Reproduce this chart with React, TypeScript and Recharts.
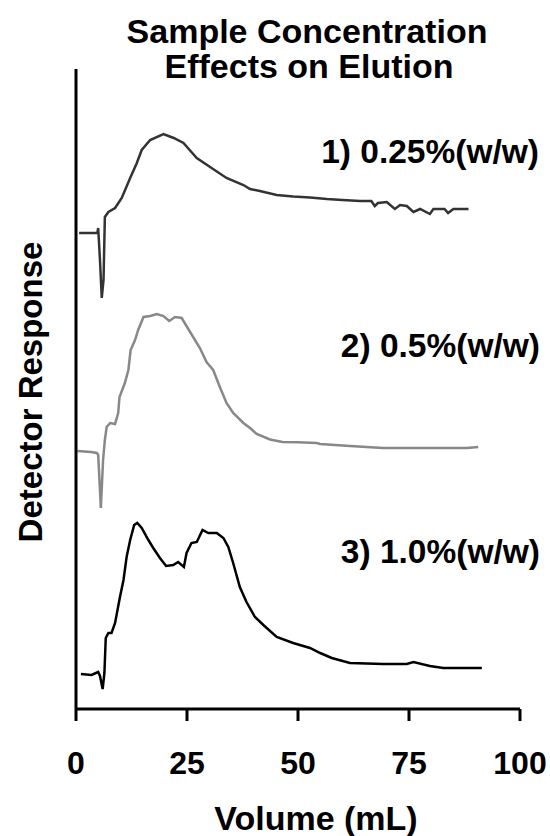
import React from "react";
import { LineChart, Line, XAxis, YAxis } from "recharts";

// elution volume (mL) and detector response (arbitrary units, curves stacked with offsets)
const vol1 = [0.7, 4.8, 5.0, 5.4, 5.8, 6.2, 6.5, 7.3, 8.8, 10.3, 12.2, 13.7, 14.8, 16.7, 19.7, 22.0, 24.2, 27.2, 30.2, 33.9, 37.7, 39.2, 41.4, 45.2, 48.9, 52.7, 56.5, 60, 64, 66.5, 67.3, 68, 70, 71.8, 73, 74.5, 76, 77.5, 79.7, 80.5, 83, 83.8, 85, 88.4];
const resp1 = [476, 476, 481, 449, 411, 429, 492, 497, 501, 511, 531, 546, 559, 569, 575, 571, 566, 551, 542, 531, 524, 520, 518, 514, 512.5, 511.5, 510, 509, 508, 508, 503, 506, 507, 500, 504, 503, 497, 500, 495, 500, 500, 496, 500, 500];

const vol2 = [0.3, 3.4, 4.7, 5.0, 5.6, 6.1, 6.5, 6.9, 7.7, 8.8, 9.5, 9.8, 11.0, 11.8, 12.3, 13.3, 14.0, 15.2, 16.7, 18.2, 19.7, 21.0, 22.3, 23.8, 25.7, 27.9, 29.4, 30.9, 32.4, 33.9, 35.4, 37.7, 39.2, 40.7, 43.7, 46.5, 50, 54.2, 55, 61.7, 69.2, 76.7, 84.2, 88, 90.6];
const resp2 = [258, 257, 256, 254, 201, 249, 269, 282, 286, 285, 296, 312, 326, 339, 359, 369, 379, 392, 393, 395, 393, 388, 392, 391, 377, 361, 347, 339, 322, 306, 296, 286, 281, 275, 269.5, 267, 266.7, 266, 265, 263, 261, 261, 261, 261, 262];

const vol3 = [1.1, 3.5, 5.0, 5.4, 6.0, 6.4, 6.7, 7.3, 8.0, 8.8, 9.9, 10.7, 11.4, 12.2, 13.1, 13.8, 14.8, 16.3, 17.4, 18.9, 20.3, 21.9, 23.0, 24.3, 24.9, 26.0, 27.2, 28.5, 29.8, 31.7, 33.2, 34.3, 35.4, 36.9, 38.4, 40.3, 42.2, 45.2, 48.9, 52.7, 55, 57.6, 61.7, 69.2, 74.5, 76, 79.7, 82.7, 86, 91.4];
const resp3 = [35, 34, 37, 33, 20, 36, 71, 76, 76, 86, 112, 129, 152, 169, 184, 186, 181, 169, 161, 151, 143, 144, 147, 142, 156, 166, 167, 179, 176, 176, 171, 162, 146, 122, 107, 92, 84, 72, 66, 61, 56, 51, 46, 45, 45, 47, 43, 41, 41, 41];

const xTicks = [0, 25, 50, 75, 100];
const seriesNames = ["1) 0.25%(w/w)", "2) 0.5%(w/w)", "3) 1.0%(w/w)"];

const toRows = (vols: number[], resps: number[]) =>
  vols.map((v, i) => ({ v, r: resps[i] }));

const FONT = '"Liberation Sans", Arial, Helvetica, sans-serif';

export default function App() {
  const data1 = toRows(vol1, resp1);
  const data2 = toRows(vol2, resp2);
  const data3 = toRows(vol3, resp3);

  return (
    <div style={{ position: "absolute", left: 0, top: 0, width: 550, height: 836, background: "#fff" }}>
      <LineChart
        width={550}
        height={836}
        margin={{ top: 69, right: 30, bottom: 0, left: 0 }}
      >
        <XAxis
          type="number"
          dataKey="v"
          domain={[0, 100]}
          ticks={xTicks}
          height={127}
          tickSize={12}
          tickMargin={30}
          axisLine={{ stroke: "#000", strokeWidth: 3 }}
          tickLine={{ stroke: "#000", strokeWidth: 3 }}
          tick={{ fill: "#000", fontSize: 32, fontWeight: "bold", fontFamily: FONT }}
          allowDuplicatedCategory={false}
        />
        <YAxis
          type="number"
          dataKey="r"
          domain={[0, 640]}
          width={76}
          tick={false}
          tickLine={false}
          axisLine={{ stroke: "#000", strokeWidth: 3 }}
        />
        <Line data={data1} dataKey="r" name={seriesNames[0]} stroke="#333" strokeWidth={2.5} dot={false} isAnimationActive={false} />
        <Line data={data2} dataKey="r" name={seriesNames[1]} stroke="#888" strokeWidth={2.5} dot={false} isAnimationActive={false} />
        <Line data={data3} dataKey="r" name={seriesNames[2]} stroke="#000" strokeWidth={2.5} dot={false} isAnimationActive={false} />
      </LineChart>
      <svg
        width={550}
        height={836}
        style={{ position: "absolute", left: 0, top: 0, pointerEvents: "none" }}
        fontFamily={FONT}
        fontWeight="bold"
        fill="#000"
      >
        <text x={307} y={43} textAnchor="middle" fontSize={34}>Sample Concentration</text>
        <text x={309} y={78} textAnchor="middle" fontSize={34}>Effects on Elution</text>
        <text x={316} y={830} textAnchor="middle" fontSize={34}>Volume (mL)</text>
        <text
          x={30}
          y={392}
          textAnchor="middle"
          dominantBaseline="central"
          fontSize={33}
          transform="rotate(-90 30 392)"
        >
          Detector Response
        </text>
        <text x={539} y={163} textAnchor="end" fontSize={33.5}>{seriesNames[0]}</text>
        <text x={540} y={357} textAnchor="end" fontSize={33.5}>{seriesNames[1]}</text>
        <text x={540} y={563} textAnchor="end" fontSize={33.5}>{seriesNames[2]}</text>
      </svg>
    </div>
  );
}
